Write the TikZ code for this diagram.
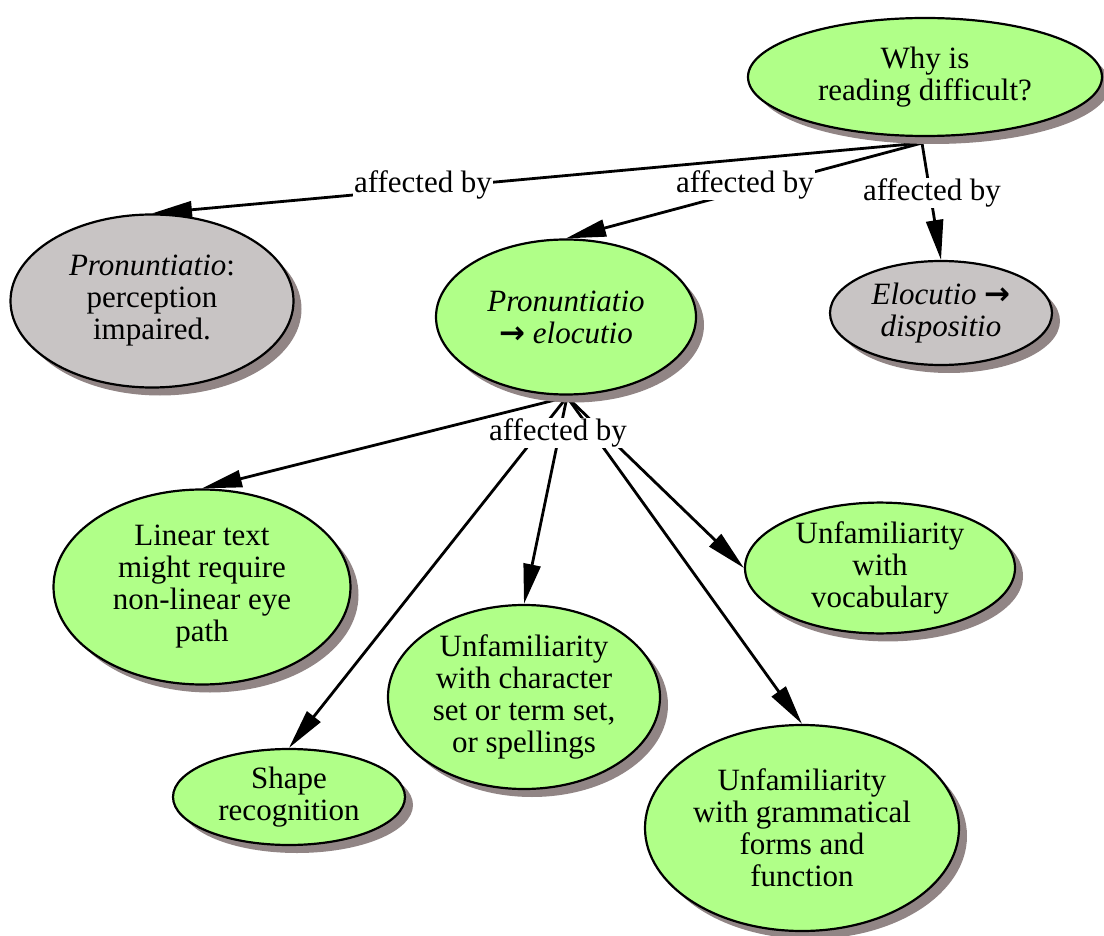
\documentclass[tikz,border=0pt]{standalone}
\usepackage{fontspec}
\setmainfont{Liberation Serif}
\newfontfamily\dvsans{DejaVu Sans}
\usetikzlibrary{shapes.geometric,shadows,arrows.meta}
\pgfdeclarelayer{background}
\pgfsetlayers{background,main}
\definecolor{cgreen}{HTML}{B0FF88}
\definecolor{cgrey}{HTML}{C8C4C4}
\definecolor{cshadow}{HTML}{918585}
\newcommand{\rarr}{{\dvsans\bfseries →}}
\tikzset{
  concept/.style={ellipse, draw=black, line width=2.2pt, inner sep=0pt,
    align=center, font=\fontsize{31}{32}\selectfont,
    drop shadow={shadow xshift=8pt, shadow yshift=-8pt, fill=cshadow, opacity=1}},
  greenc/.style={concept, fill=cgreen},
  greyc/.style={concept, fill=cgrey},
  linkl/.style={fill=white, inner sep=1pt, font=\fontsize{31}{32}\selectfont},
  conn/.style={line width=2.8pt, -{Triangle[length=40pt,width=17pt]}},
}
\begin{document}
\begin{tikzpicture}[x=1pt,y=-1pt]
\useasboundingbox (0,0) rectangle (1104,936);
% concepts
\node[greenc, minimum width=354pt, minimum height=118pt] (root) at (925,77) {Why is\\reading difficult?};
\node[greyc, minimum width=283pt, minimum height=173pt] (perc) at (152,301) {\textit{Pronuntiatio}:\\perception\\impaired.};
\node[greenc, minimum width=260pt, minimum height=155pt] (mid) at (566,317) {\textit{Pronuntiatio}\\\rarr\ \textit{elocutio}};
\node[greyc, minimum width=222pt, minimum height=104pt] (eloc) at (941,313) {\textit{Elocutio} \rarr\\\textit{dispositio}};
\node[greenc, minimum width=297pt, minimum height=195pt] (lin) at (202,587) {Linear text\\might require\\non-linear eye\\path};
\node[greenc, minimum width=232pt, minimum height=96pt] (shape) at (289,797) {Shape\\recognition};
\node[greenc, minimum width=272pt, minimum height=184pt] (chars) at (524,697) {Unfamiliarity\\with character\\set or term set,\\or spellings};
\node[greenc, minimum width=270pt, minimum height=126pt] (voc) at (880,568) {Unfamiliarity\\with\\vocabulary};
\node[greenc, minimum width=314pt, minimum height=206pt] (gram) at (802,828) {Unfamiliarity\\with grammatical\\forms and\\function};
% anchors
\coordinate (ra) at (922,143);
\coordinate (ma) at (567,397);
% connectors
\begin{pgfonlayer}{background}
\draw[conn] (ra) -- (perc.north);
\draw[conn] (ra) -- (mid.north);
\draw[conn] (ra) -- (eloc.north);
\draw[conn] (ma) -- (lin.north);
\draw[conn] (ma) -- (shape.north);
\draw[conn] (ma) -- (chars.north);
\draw[conn] (ma) -- (voc.west);
\draw[conn] (ma) -- (gram.north);
\end{pgfonlayer}
% linking phrases
\node[linkl] (l1) at (423,185) {affected by};
\node[linkl] (l2) at (745,185) {affected by};
\node[linkl] (l3) at (932,193) {affected by};
\node[linkl] (l4) at (558,433) {affected by};
\end{tikzpicture}
\end{document}
